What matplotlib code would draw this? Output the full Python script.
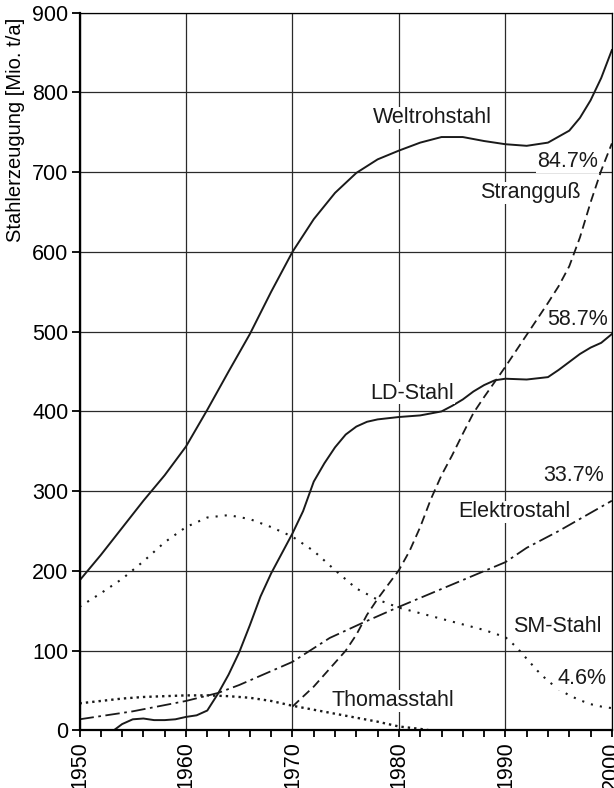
import matplotlib
matplotlib.use("Agg")
from matplotlib import pyplot as plt
from matplotlib.ticker import MultipleLocator

plt.rcParams['font.family'] = ['Liberation Sans', 'DejaVu Sans']

# Weltrohstahl
welt_x = [1950, 1952, 1954, 1956, 1958, 1960, 1962, 1964, 1966, 1968, 1970, 1972, 1974,
          1976, 1978, 1980, 1982, 1984, 1986, 1988, 1990, 1992, 1994, 1996, 1997, 1998,
          1999, 2000]
welt_y = [188, 220, 254, 288, 320, 356, 402, 450, 497, 550, 600, 641, 674,
          699, 716, 727, 737, 744, 744, 739, 735, 733, 737, 752, 768, 790,
          818, 853]

# LD-Stahl
ld_x = [1953.2, 1954, 1955, 1956, 1957, 1958, 1959, 1960, 1961, 1962, 1963, 1964, 1965,
        1966, 1967, 1968, 1969, 1970, 1971, 1972, 1973, 1974, 1975, 1976, 1977, 1978,
        1980, 1982, 1984, 1985, 1986, 1987, 1988, 1989, 1990, 1992, 1994, 1995, 1996,
        1997, 1998, 1999, 2000]
ld_y = [0, 8, 14, 15, 13, 13, 14, 17, 19, 25, 46, 70, 98,
        132, 168, 197, 222, 247, 275, 312, 335, 355, 371, 381, 387, 390,
        393, 395, 400, 407, 415, 425, 433, 439, 441, 440, 443, 452, 462,
        472, 480, 486, 497]

# Strangguss
strang_x = [1970, 1972, 1974, 1975, 1976, 1977, 1978, 1979, 1980, 1981, 1982, 1983,
            1984, 1985, 1986, 1987, 1988, 1989, 1990, 1992, 1994, 1995, 1996, 1997,
            1998, 1999, 2000]
strang_y = [30, 55, 85, 100, 120, 145, 165, 183, 201, 225, 255, 290,
            320, 345, 372, 398, 418, 437, 456, 496, 536, 557, 582, 618,
            662, 702, 736]

# Elektrostahl
elektro_x = [1950, 1955, 1960, 1963, 1965, 1970, 1973.5, 1976.6, 1980, 1985, 1990,
             1992, 1995, 2000]
elektro_y = [14, 24, 37, 47, 57, 86, 116, 135, 155, 183, 211, 229, 250, 288]

# SM-Stahl
sm_x = [1950, 1952, 1954, 1956, 1958, 1960, 1962, 1964, 1966, 1968, 1970, 1972, 1974,
        1976, 1978, 1980, 1982, 1984, 1986, 1988, 1990, 1991, 1992, 1993, 1994, 1995,
        1996, 1997, 1998, 1999, 2000]
sm_y = [155, 172, 190, 212, 236, 255, 267, 270, 265, 255, 243, 225, 201,
        178, 164, 154, 147, 140, 133, 126, 117, 105, 90, 75, 62, 52,
        44, 38, 33, 30, 28]

# Thomasstahl
thomas_x = [1950, 1952, 1954, 1956, 1958, 1960, 1962, 1964, 1966, 1968, 1970, 1972,
            1974, 1976, 1978, 1980, 1982, 1983]
thomas_y = [34, 37, 40, 42, 43, 44, 44, 43, 41, 37, 31, 26,
            21, 16, 11, 5, 2, 0]

# labels: (text, x, y, ha)
labels = [("Weltrohstahl", 1977.6, 768, "left"),
          ("84.7%", 1998.7, 713, "right"),
          ("Strangguß", 1987.6, 674, "left"),
          ("58.7%", 1999.6, 515, "right"),
          ("LD-Stahl", 1977.3, 423, "left"),
          ("33.7%", 1999.3, 320, "right"),
          ("Elektrostahl", 1985.6, 274, "left"),
          ("SM-Stahl", 1990.7, 130, "left"),
          ("4.6%", 1999.5, 65, "right"),
          ("Thomasstahl", 1973.7, 37, "left")]

fig = plt.figure(figsize=(6.14, 7.88), dpi=100)
ax = fig.add_axes([0.1295, 0.073, 0.867, 0.911])

ax.plot(welt_x, welt_y, color='#1a1a1a', lw=1.4)
ax.plot(ld_x, ld_y, color='#1a1a1a', lw=1.4)
ax.plot(strang_x, strang_y, color='#1a1a1a', lw=1.3, linestyle=(0, (5, 2.8)))
ax.plot(elektro_x, elektro_y, color='#1a1a1a', lw=1.3, linestyle=(0, (8, 2.5, 1.5, 2.5)))
ax.plot(sm_x, sm_y, color='#1a1a1a', lw=1.5, linestyle=(0, (1, 3.4)))
ax.plot(thomas_x, thomas_y, color='#1a1a1a', lw=1.7, linestyle=(0, (1, 1.7)))

for txt, x, y, ha in labels:
    ax.text(x, y, txt, ha=ha, va='center', fontsize=15.5, color='#1a1a1a',
            bbox=dict(facecolor='white', edgecolor='none', pad=0.5))

ax.set_xlim(1950, 2000)
ax.set_ylim(0, 900)
ax.xaxis.set_major_locator(MultipleLocator(10))
ax.xaxis.set_minor_locator(MultipleLocator(2))
ax.yaxis.set_major_locator(MultipleLocator(100))
ax.grid(True, which='major', color='#2a2a2a', lw=0.9)
ax.set_axisbelow(True)

ax.tick_params(axis='x', which='both', direction='out', length=5, width=1.3,
               labelsize=15.5, labelrotation=90, pad=3)
ax.tick_params(axis='y', direction='out', length=6, width=1.3, labelsize=15.5, pad=2)
for s in ['left', 'bottom']:
    ax.spines[s].set_linewidth(1.6)
for s in ['top', 'right']:
    ax.spines[s].set_linewidth(0.9)

ax.set_ylabel("Stahlerzeugung [Mio. t/a]", fontsize=14.5, labelpad=1)
ax.yaxis.set_label_coords(-0.102, 0.837)

fig.savefig("out.png", dpi=100)
